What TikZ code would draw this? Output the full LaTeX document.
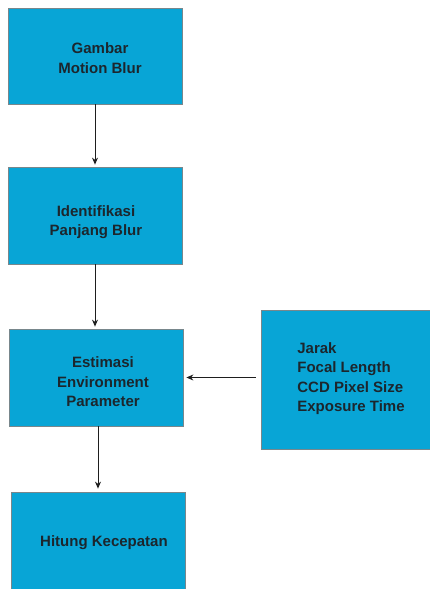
\documentclass[tikz,border=0pt]{standalone}
\usepackage{fontspec}
\setmainfont{Liberation Sans}
\usetikzlibrary{arrows.meta}
\definecolor{boxfill}{RGB}{8,165,214}
\definecolor{boxline}{RGB}{120,135,140}
\definecolor{txt}{RGB}{28,38,45}
\definecolor{arr}{RGB}{30,30,30}
\tikzset{
  flowbox/.style={draw=boxline, line width=0.8pt, fill=boxfill,
    inner sep=0pt, minimum width=174pt},
  boxtext/.style={text=txt, font=\fontsize{15}{19.5}\selectfont\bfseries,
    align=center, inner sep=0pt},
  flowarrow/.style={draw=arr, line width=1pt, -{Stealth[length=7pt,width=6pt]}}
}
\begin{document}
\begin{tikzpicture}[x=1pt,y=-1pt]
\fill[white] (0,0) rectangle (430,589);
\useasboundingbox (0,0) rectangle (430,589);
\node[flowbox, minimum height=96pt] (b1) at (95,56) {};
\node[flowbox, minimum height=97pt] (b2) at (95,215.5) {};
\node[flowbox, minimum height=97pt] (b3) at (96,377.5) {};
\node[flowbox, minimum height=120pt] (b4) at (98,552) {};
\node[flowbox, minimum width=172pt, minimum height=139pt] (side) at (347,379.5) {};
\node[boxtext] (t1) at (100,58) {Gambar\\Motion Blur};
\node[boxtext] (t2) at (96,222) {Identifikasi\\Panjang Blur};
\node[boxtext] (t3) at (103,382) {Estimasi\\Environment\\Parameter};
\node[boxtext] (t4) at (104,543) {Hitung Kecepatan};
\node[boxtext, align=left] (t5) at (351,378.5) {Jarak\\Focal Length\\CCD Pixel Size\\Exposure Time};
\draw[flowarrow, shorten >=2pt] (b1.south) -- (b2.north);
\draw[flowarrow, shorten >=2pt] (b2.south) -- (b2.south |- b3.north);
\draw[flowarrow, shorten >=3pt] (b3.south -| b4.north) -- (b4.north);
\draw[flowarrow, shorten <=5pt, shorten >=3pt] (side.west |- b3.east) -- (b3.east);
\end{tikzpicture}
\end{document}
